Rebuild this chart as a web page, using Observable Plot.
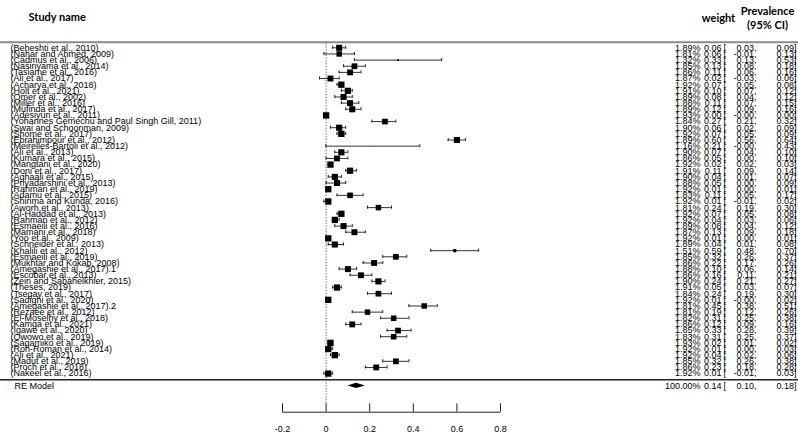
<!DOCTYPE html>
<html><head><meta charset="utf-8">
<script src="https://cdn.jsdelivr.net/npm/d3@7"></script>
<script src="https://cdn.jsdelivr.net/npm/@observablehq/plot@0.6"></script>
<style>
body{margin:0;background:#fff;}
#chart svg{display:block;}
</style>
</head><body><div id="chart"></div>
<script>
const studies = [
"(Beheshti et al., 2010)","(Nahar and Ahmed, 2009)","(Cadmus et al., 2006)","(Nasinyama et al., 2014)",
"(Tasiame et al., 2016)","(Ali et al., 2017)","(Acharya et al., 2018)","(Holt et al., 2021)",
"(Omer et al., 2002)","(Miller et al., 2016)","(Mufinda et al., 2017)","(Adesiyun et al., 2011)",
"(Yohannes Gemechu and Paul Singh Gill, 2011)","(Swai and Schoonman, 2009)","(Shome et al., 2017)",
"(Ebrahimpour et al., 2012)","(Meirelles-Bartoli et al., 2012)","(Ali et al., 2013)","(Kumara et al., 2015)",
"(Mangtani et al., 2020)","(Doni et al., 2017)","(Aghaali et al., 2015)","(Priyadarshini et al., 2013)",
"(Rahman et al., 2019)","(Adamu et al., 2015)","(Shirima and Kunda, 2016)","(Aworh et al., 2013)",
"(Al-Haddad et al., 2013)","(Rahman et al., 2012)","(Esmaeili et al., 2016)","(Mamani et al., 2018)",
"(Yoo et al., 2009)","(Schneider et al., 2013)","(Khalili et al., 2012)","(Esmaeili et al., 2019)",
"(Mukhtar and Kokab, 2008)","(Amegashie et al., 2017).1","(Escobar et al., 2013)","(Zein and Sabahelkhier, 2015)",
"(Theses, 2019)","(Tsegay et al., 2017)","(Sadighi et al., 2020)","(Amegashie et al., 2017).2",
"(Rezaee et al., 2012)","(El-Moselhy et al., 2018)","(Kamga et al., 2021)","(Igawe et al., 2020)",
"(Owowo et al., 2019)","(Sagamiko et al., 2019)","(Roh-Roman et al., 2014)","(Ali et al., 2021)",
"(Madut et al., 2019)","(Proch et al., 2018)","(Nakeel et al., 2016)"
];
const weights = [
1.89,1.81,1.32,1.85,1.86,1.87,1.92,1.91,1.89,1.88,
1.89,1.93,1.84,1.90,1.92,1.89,1.16,1.90,1.86,1.92,
1.91,1.90,1.88,1.92,1.83,1.92,1.81,1.92,1.92,1.89,
1.87,1.92,1.89,1.51,1.85,1.86,1.88,1.86,1.90,1.91,
1.84,1.92,1.81,1.81,1.82,1.86,1.85,1.83,1.93,1.92,
1.92,1.85,1.86,1.92];
const estimates = [
0.06,0.06,0.33,0.13,0.11,0.02,0.07,0.10,0.08,0.11,
0.12,0.00,0.27,0.06,0.07,0.60,0.21,0.07,0.05,0.02,
0.11,0.04,0.05,0.01,0.11,0.01,0.24,0.07,0.04,0.08,
0.13,0.01,0.04,0.59,0.32,0.22,0.10,0.16,0.24,0.05,
0.24,0.01,0.45,0.19,0.31,0.12,0.33,0.31,0.02,0.01,
0.04,0.32,0.23,0.01];
const lower = [
0.03,-0.01,0.13,0.08,0.06,-0.03,0.05,0.07,0.04,0.07,
0.09,-0.001,0.21,0.02,0.05,0.56,-0.001,0.04,0.00,0.02,
0.09,0.01,0.00,0.00,0.05,-0.01,0.19,0.05,0.03,0.04,
0.09,0.00,0.01,0.48,0.26,0.17,0.06,0.11,0.21,0.03,
0.19,-0.001,0.38,0.12,0.25,0.09,0.28,0.25,0.01,0.00,
0.02,0.26,0.18,-0.01];
const upper = [
0.09,0.13,0.53,0.18,0.16,0.06,0.08,0.12,0.12,0.15,
0.16,0.00,0.32,0.09,0.09,0.64,0.43,0.10,0.10,0.03,
0.14,0.07,0.09,0.01,0.17,0.02,0.30,0.08,0.06,0.12,
0.18,0.01,0.08,0.70,0.37,0.26,0.14,0.21,0.27,0.07,
0.30,0.02,0.51,0.26,0.38,0.16,0.39,0.37,0.02,0.03,
0.06,0.38,0.28,0.03];
const pooledLabel = "RE Model";
const pooledWeight = 100.00;
const pooledEstimate = 0.14;
const pooledLower = 0.10;
const pooledUpper = 0.18;
const xTicks = [-0.2, 0, 0.2, 0.4, 0.6, 0.8];
const headerStudy = "Study name";
const headerWeight = "weight";
const headerPrev = ["Prevalence", "(95% CI)"];

const n = studies.length;
const rows = studies.map((s, i) => ({study: s, weight: weights[i], est: estimates[i], lo: lower[i], hi: upper[i], row: n - i}));
const pooled = [{study: pooledLabel, weight: pooledWeight, est: pooledEstimate, lo: pooledLower, hi: pooledUpper, row: -1}];
const allRows = rows.concat(pooled);

const f2 = v => v.toFixed(2);
const loText = v => (v < 0 ? "-" : "") + Math.abs(v).toFixed(2) + ",";
const hiText = v => f2(v) + "]";

const diamond = [
  {y: -1.42, x1: pooledEstimate, x2: pooledEstimate},
  {y: -1, x1: pooledLower, x2: pooledUpper},
  {y: -0.58, x1: pooledEstimate, x2: pooledEstimate}
];

const FONT = "'Liberation Sans', Arial, sans-serif";
const HFONT = "Lato, 'Open Sans', sans-serif";
const hdr = {fontWeight: "bold", fontSize: 11, fontFamily: HFONT, textAnchor: "middle"};

const chart = Plot.plot({
  width: 798,
  height: 435,
  marginTop: 0, marginLeft: 0, marginRight: 0, marginBottom: 23.3,
  style: {fontFamily: FONT, fontSize: "9px", color: "black", background: "white"},
  x: {domain: [-0.2, 0.8], range: [282, 500], axis: null},
  y: {domain: [-1, n], range: [385.4, 47.3], axis: null},
  r: {type: "linear", domain: [d3.min(weights), d3.max(weights)], range: [0.3, 3.6]},
  marks: [
    Plot.ruleY([n + 0.91], {stroke: "#8a8a8a", strokeWidth: 2}),
    Plot.ruleY([0], {stroke: "#222", strokeWidth: 1.3}),
    Plot.ruleX([0], {y1: -3.9, y2: n + 0.91, stroke: "#555", strokeDasharray: "1.2,1.6"}),
    Plot.ruleY(rows, {y: "row", x1: "lo", x2: "hi", stroke: "#333", strokeWidth: 1}),
    Plot.ruleX(rows, {x: "lo", y1: d => d.row - 0.25, y2: d => d.row + 0.25, stroke: "#222"}),
    Plot.ruleX(rows, {x: "hi", y1: d => d.row - 0.25, y2: d => d.row + 0.25, stroke: "#222"}),
    Plot.dot(rows, {x: "est", y: "row", r: "weight", symbol: "square", fill: "black", stroke: null}),
    Plot.areaX(diamond, {y: "y", x1: "x1", x2: "x2", fill: "black", curve: "linear"}),
    Plot.text(rows, {y: "row", text: "study", frameAnchor: "left", dx: 10, textAnchor: "start"}),
    Plot.text(pooled, {y: "row", text: "study", frameAnchor: "left", dx: 14, textAnchor: "start"}),
    Plot.text(allRows, {y: "row", text: d => f2(d.weight) + "%", frameAnchor: "right", dx: -98, textAnchor: "end"}),
    Plot.text(allRows, {y: "row", text: d => f2(d.est), frameAnchor: "right", dx: -77, textAnchor: "end"}),
    Plot.text(allRows, {y: "row", text: () => "[", frameAnchor: "right", dx: -75, textAnchor: "start"}),
    Plot.text(allRows, {y: "row", text: d => loText(d.lo), frameAnchor: "right", dx: -42, textAnchor: "end"}),
    Plot.text(allRows, {y: "row", text: d => hiText(d.hi), frameAnchor: "right", dx: -2, textAnchor: "end"}),
    Plot.ruleY([-5.28], {x1: -0.2, x2: 0.8, stroke: "#222"}),
    Plot.ruleX(xTicks, {x: d => d, y1: -5.28, y2: -3.92, stroke: "#222"}),
    Plot.axisX({ticks: xTicks, tickSize: 0, tickPadding: 13, tickFormat: d => String(d), fontSize: 9}),
    Plot.text([headerStudy], {text: d => d, frameAnchor: "top-left", dx: 28, dy: 13, ...hdr, textAnchor: "start"}),
    Plot.text([headerWeight], {text: d => d, frameAnchor: "top-right", dx: -80, dy: 14, ...hdr}),
    Plot.text(headerPrev.slice(0, 1), {text: d => d, frameAnchor: "top-right", dx: -31, dy: 7, ...hdr}),
    Plot.text(headerPrev.slice(1), {text: d => d, frameAnchor: "top-right", dx: -31, dy: 21, ...hdr})
  ]
});
document.getElementById("chart").appendChild(chart);
</script>
</body></html>
